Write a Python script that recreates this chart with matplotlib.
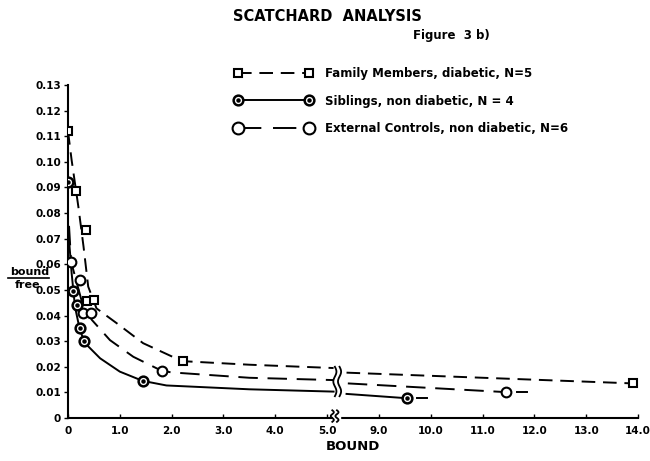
import numpy as np
import matplotlib
matplotlib.use("Agg")
import matplotlib.pyplot as plt
from matplotlib.lines import Line2D
from matplotlib.legend_handler import HandlerTuple

# measured points (bound, bound/free)
family_x = [0.0, 0.15, 0.34, 0.37, 0.51, 2.21, 13.9]
family_y = [0.112, 0.0886, 0.0735, 0.0455, 0.0462, 0.0222, 0.0135]
sib_x = [0.0, 0.09, 0.17, 0.23, 0.31, 1.44, 9.55]
sib_y = [0.092, 0.0497, 0.0440, 0.0350, 0.0302, 0.0145, 0.0078]
ext_x = [0.05, 0.23, 0.28, 0.44, 1.81, 11.45]
ext_y = [0.061, 0.054, 0.041, 0.041, 0.0183, 0.0101]

# hand-drawn fit curves (left / right of the axis break)
fam_curve_x = [0.0, 0.07, 0.2, 0.3, 0.39, 0.55, 0.94, 1.45, 2.2, 3.5, 5.5]
fam_curve_y = [0.112, 0.1007, 0.0825, 0.0669, 0.0513, 0.0428, 0.037, 0.0292, 0.0222, 0.0208, 0.0195]
fam_curve2_x = [6.5, 13.9]
fam_curve2_y = [0.0177, 0.0135]
ext_curve_x = [0.02, 0.06, 0.26, 0.46, 0.81, 1.26, 1.81, 2.0, 3.5, 5.5]
ext_curve_y = [0.075, 0.061, 0.046, 0.0383, 0.0304, 0.0239, 0.0184, 0.0178, 0.0157, 0.0148]
ext_curve2_x = [6.6, 11.45]
ext_curve2_y = [0.0135, 0.0101]
ext_tail_x = [11.66, 11.85]
ext_tail_y = [0.0101, 0.0101]
sib_curve_x = [0.0, 0.0, 0.07, 0.135, 0.23, 0.33, 0.62, 1.0, 1.44, 1.9, 3.5, 5.5]
sib_curve_y = [0.092, 0.0747, 0.0566, 0.0434, 0.0343, 0.0292, 0.0233, 0.0181, 0.0145, 0.0127, 0.0112, 0.0103]
sib_curve2_x = [6.5, 9.55]
sib_curve2_y = [0.0094, 0.0077]
sib_tail_x = [9.74, 9.92]
sib_tail_y = [0.0077, 0.0077]

xticks = [0, 1, 2, 3, 4, 5, 9, 10, 11, 12, 13, 14]
xticklabels = ["0", "1.0", "2.0", "3.0", "4.0", "5.0", "9.0", "10.0", "11.0", "12.0", "13.0", "14.0"]
yticks = [0, 0.01, 0.02, 0.03, 0.04, 0.05, 0.06, 0.07, 0.08, 0.09, 0.10, 0.11, 0.12, 0.13]
yticklabels = ["0"] + [f"{v:.2f}" for v in yticks[1:]]


def fwd(v):
    # broken x axis: 0-5 linear, 5-9 squeezed into one unit, 9-14 linear
    v = np.asarray(v, dtype=float)
    return np.where(v <= 5, v, np.where(v < 9, 5 + (v - 5) / 4, v - 3))


def inv(d):
    d = np.asarray(d, dtype=float)
    return np.where(d <= 5, d, np.where(d < 6, 5 + (d - 5) * 4, d + 3))


plt.rcParams["font.family"] = "DejaVu Sans"
fig = plt.figure(figsize=(6.5, 4.61), dpi=100)
ax = fig.add_axes([0.1046, 0.0933, 0.877, 0.7223])
ax.set_xscale("function", functions=(fwd, inv))

K = "black"
lw = 1.4
dash_f = (0, (7, 4))
dash_e = (0, (10, 5))

ax.plot(fam_curve_x, fam_curve_y, color=K, lw=lw, ls=dash_f)
ax.plot(fam_curve2_x, fam_curve2_y, color=K, lw=lw, ls=dash_f)
ax.plot(ext_curve_x, ext_curve_y, color=K, lw=lw, ls=dash_e)
ax.plot(ext_curve2_x, ext_curve2_y, color=K, lw=lw, ls=dash_e)
ax.plot(ext_tail_x, ext_tail_y, color=K, lw=lw)
ax.plot(sib_curve_x, sib_curve_y, color=K, lw=lw)
ax.plot(sib_curve2_x, sib_curve2_y, color=K, lw=lw)
ax.plot(sib_tail_x, sib_tail_y, color=K, lw=lw)

ax.plot(family_x, family_y, ls="none", marker="s", ms=6, mfc="white", mec=K, mew=1.5, zorder=5)
ax.plot(ext_x, ext_y, ls="none", marker="o", ms=7, mfc="white", mec=K, mew=1.5, zorder=5)
ax.plot(sib_x, sib_y, ls="none", marker="o", ms=7, mfc="white", mec=K, mew=1.8, zorder=5)
ax.plot(sib_x, sib_y, ls="none", marker="o", ms=2.2, color=K, zorder=6)

ax.set_xlim(0, 14)
ax.set_ylim(0, 0.13)

# break marks, drawn on a linear overlay in display units
ov = fig.add_axes(ax.get_position(), frameon=False)
ov.set_xlim(0, 11)
ov.set_ylim(0, 0.13)
ov.set_xticks([])
ov.set_yticks([])
t = np.linspace(0, 1, 60)
for dx in (0.0, 0.09):
    xs = 5.15 + dx + 0.03 * np.sin(t * 2 * np.pi * 1.5)
    ov.plot(xs, 0.0085 + t * 0.0115, color=K, lw=1.3)
    ov.plot(xs - 0.05, -0.0015 + t * 0.0045, color=K, lw=1.3, clip_on=False, zorder=4)
ov.fill_between([5.12, 5.25], -0.0008, 0.0008, color="white", zorder=3, clip_on=False)

for s in ("top", "right"):
    ax.spines[s].set_visible(False)
ax.spines["left"].set_linewidth(1.5)
ax.spines["bottom"].set_linewidth(1.5)
ax.set_xticks(xticks)
ax.set_xticklabels(xticklabels)
ax.set_xticks([], minor=True)
ax.set_yticks(yticks)
ax.set_yticklabels(yticklabels)
ax.tick_params(axis="x", direction="in", length=3, width=1, labelsize=7.5, pad=6)
ax.tick_params(axis="y", direction="out", length=3, width=1, labelsize=7.5, pad=2)
for lab in ax.get_xticklabels() + ax.get_yticklabels():
    lab.set_fontweight("bold")

ax.set_xlabel("BOUND", fontsize=9.5, fontweight="bold", labelpad=3)

# bound / free fraction label
fig.text(0.045, 0.400, "bound", ha="center", va="bottom", fontsize=8, fontweight="bold")
fig.text(0.043, 0.393, "free", ha="center", va="top", fontsize=8, fontweight="bold")
fig.add_artist(Line2D([0.013, 0.075], [0.397, 0.397], color=K, lw=1.2))

fig.text(0.503, 0.965, "SCATCHARD  ANALYSIS", ha="center", va="center", fontsize=10.5, fontweight="bold")
fig.text(0.694, 0.922, "Figure  3 b)", ha="center", va="center", fontsize=8.5, fontweight="bold")

h_fam = Line2D([], [], color=K, lw=lw, ls=dash_f, marker="s", ms=6, mfc="white", mec=K, mew=1.5)
h_sib_a = Line2D([], [], color=K, lw=lw, marker="o", ms=7, mfc="white", mec=K, mew=1.8)
h_sib_b = Line2D([], [], ls="none", marker="o", ms=2.2, color=K)
h_ext = Line2D([], [], color=K, lw=lw, ls=(0, (12, 6)), marker="o", ms=8.5, mfc="white", mec=K, mew=1.5)
fig.legend([h_fam, (h_sib_a, h_sib_b), h_ext],
           ["Family Members, diabetic, N=5", "Siblings, non diabetic, N = 4",
            "External Controls, non diabetic, N=6"],
           handler_map={tuple: HandlerTuple(ndivide=1)},
           loc="upper left", bbox_to_anchor=(0.345, 0.878), frameon=False, numpoints=2,
           handlelength=6.6, handletextpad=1.0, labelspacing=1.25,
           prop={"size": 8.5, "weight": "bold"})

fig.savefig("out.png", dpi=100)
